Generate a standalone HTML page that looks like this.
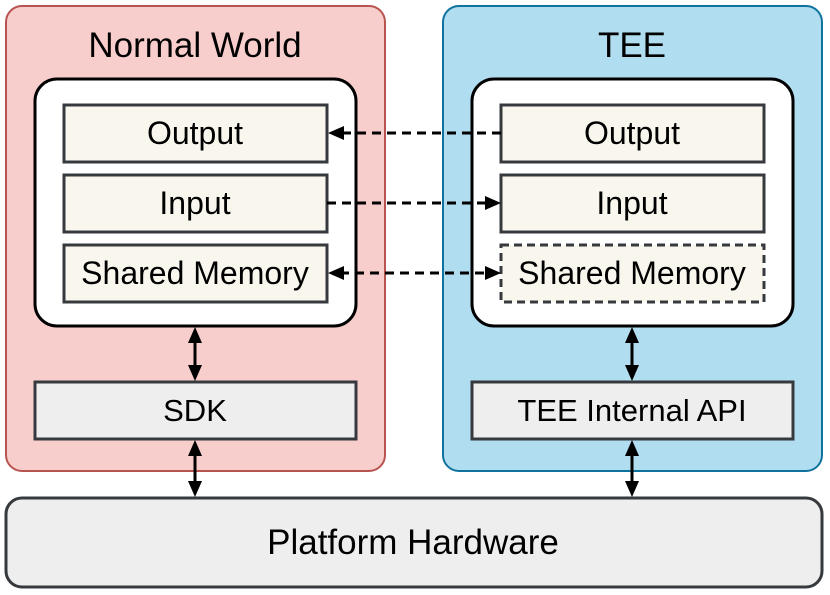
<!DOCTYPE html>
<html><head><meta charset="utf-8"><style>
html,body{margin:0;padding:0;background:#fff;}
text{font-family:"Liberation Sans",sans-serif;fill:#000;}
</style></head><body>
<svg width="830" height="590" viewBox="0 0 830 590" xmlns="http://www.w3.org/2000/svg">
<rect x="6" y="6" width="379" height="465" rx="16" fill="#f8cecc" stroke="#b85450" stroke-width="2"/>
<rect x="443" y="6" width="379" height="465" rx="16" fill="#b1ddf0" stroke="#10739e" stroke-width="2"/>
<text x="195" y="57" font-size="35" text-anchor="middle">Normal World</text>
<text x="632" y="57" font-size="35" text-anchor="middle">TEE</text>

<rect x="35" y="79" width="321" height="247" rx="22" fill="#fff" stroke="#000" stroke-width="3"/>
<rect x="472" y="79" width="321" height="247" rx="22" fill="#fff" stroke="#000" stroke-width="3"/>

<g fill="#f9f7ed" stroke="#36393d" stroke-width="3">
<rect x="64" y="105" width="263" height="57"/>
<rect x="64" y="175" width="263" height="57"/>
<rect x="64" y="245" width="263" height="57"/>
<rect x="501" y="105" width="263" height="57"/>
<rect x="501" y="175" width="263" height="57"/>
<rect x="501" y="245" width="263" height="57" stroke-dasharray="8 5"/>
</g>
<g font-size="32" text-anchor="middle">
<text x="195" y="144">Output</text>
<text x="195" y="214">Input</text>
<text x="195" y="284">Shared Memory</text>
<text x="632" y="144">Output</text>
<text x="632" y="214">Input</text>
<text x="632" y="284">Shared Memory</text>
</g>

<rect x="35" y="382" width="321" height="57" fill="#eeeeee" stroke="#36393d" stroke-width="3"/>
<rect x="472" y="382" width="321" height="57" fill="#eeeeee" stroke="#36393d" stroke-width="3"/>
<text x="195" y="421" font-size="31" text-anchor="middle">SDK</text>
<text x="632" y="421" font-size="31" text-anchor="middle">TEE Internal API</text>

<rect x="6" y="498" width="816" height="89" rx="16" fill="#eeeeee" stroke="#36393d" stroke-width="3"/>
<text x="413" y="554" font-size="35" text-anchor="middle">Platform Hardware</text>

<g stroke="#000" stroke-width="3" fill="none">
<line x1="501" y1="133" x2="340" y2="133" stroke-dasharray="9 6"/>
<line x1="327" y1="203" x2="488" y2="203" stroke-dasharray="9 6"/>
<line x1="340" y1="273" x2="488" y2="273" stroke-dasharray="9 6"/>
<line x1="195" y1="340" x2="195" y2="368"/>
<line x1="195" y1="453" x2="195" y2="484"/>
<line x1="632" y1="340" x2="632" y2="368"/>
<line x1="632" y1="453" x2="632" y2="484"/>
</g>
<g fill="#000">
<polygon points="328,133 344,126 344,140"/>
<polygon points="501,203 485,196 485,210"/>
<polygon points="328,273 344,266 344,280"/>
<polygon points="501,273 485,266 485,280"/>
<polygon points="195,327 188,343 202,343"/>
<polygon points="195,381 188,365 202,365"/>
<polygon points="195,440 188,456 202,456"/>
<polygon points="195,497 188,481 202,481"/>
<polygon points="632,327 625,343 639,343"/>
<polygon points="632,381 625,365 639,365"/>
<polygon points="632,440 625,456 639,456"/>
<polygon points="632,497 625,481 639,481"/>
</g>
</svg>
</body></html>
